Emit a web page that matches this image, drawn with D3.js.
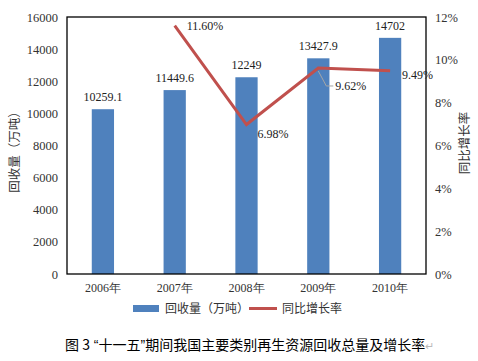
<!DOCTYPE html>
<html><head><meta charset="utf-8">
<script src="https://cdn.jsdelivr.net/npm/d3@7"></script>
<style>body{margin:0;background:#fff}</style>
</head><body>
<script>
const categories = ["2006年","2007年","2008年","2009年","2010年"];
const volumes = [10259.1, 11449.6, 12249, 13427.9, 14702];
const volumeLabels = ["10259.1","11449.6","12249","13427.9","14702"];
const growth = [null, 11.60, 6.98, 9.62, 9.49];
const growthLabels = ["", "11.60%", "6.98%", "9.62%", "9.49%"];
const leftTicks = [0,2000,4000,6000,8000,10000,12000,14000,16000];
const rightTicks = [0,2,4,6,8,10,12];

const W=478,H=361;
const m={l:67,r:426,t:17,b:274};
const svg=d3.select("body").append("svg").attr("width",W).attr("height",H);
const serif="'Liberation Serif','Times New Roman',serif";
const cjk="'Noto Sans CJK SC',sans-serif";

const x=d3.scaleBand().domain(categories).range([m.l,m.r]).paddingInner(0.69).paddingOuter(0.345);
const y=d3.scaleLinear().domain([0,16000]).range([m.b,m.t]);
const y2=d3.scaleLinear().domain([0,12]).range([m.b,m.t]);

// bars
svg.selectAll("rect.bar").data(volumes).join("rect")
 .attr("x",(d,i)=>x(categories[i])).attr("width",x.bandwidth())
 .attr("y",d=>y(d)).attr("height",d=>y(0)-y(d)).attr("fill","#4F81BD");

// plot border
svg.append("rect").attr("x",m.l).attr("y",m.t).attr("width",m.r-m.l).attr("height",m.b-m.t)
 .attr("fill","none").attr("stroke","#000").attr("stroke-width",1.3);

// left axis
const la=svg.append("g").attr("transform",`translate(${m.l},0)`)
 .call(d3.axisLeft(y).tickValues(leftTicks).tickSize(0).tickPadding(9).tickFormat(d3.format("d")));
la.select(".domain").remove();
la.selectAll("text").attr("font-family",serif).attr("font-size",12.5).attr("fill","#333");

// right axis
const ra=svg.append("g").attr("transform",`translate(${m.r},0)`)
 .call(d3.axisRight(y2).tickValues(rightTicks).tickSize(0).tickPadding(9).tickFormat(d=>d+"%"));
ra.select(".domain").remove();
ra.selectAll("text").attr("font-family",serif).attr("font-size",12.5).attr("fill","#333");

// x axis
const xa=svg.append("g").attr("transform",`translate(0,${m.b})`)
 .call(d3.axisBottom(x).tickSize(0).tickPadding(9));
xa.select(".domain").remove();
xa.selectAll("text").attr("font-family",serif).attr("font-size",12).attr("fill","#333");

// line
const pts=growth.map((g,i)=>({g,i})).filter(p=>p.g!==null);
const cx=i=>x(categories[i])+x.bandwidth()/2;
svg.append("path").datum(pts)
 .attr("d",d3.line().x(p=>cx(p.i)).y(p=>y2(p.g)))
 .attr("fill","none").attr("stroke","#C0504D").attr("stroke-width",3);

// bar labels
svg.selectAll("text.vl").data(volumes).join("text")
 .attr("x",(d,i)=>cx(i)).attr("y",d=>y(d)-8).attr("text-anchor","middle")
 .attr("font-family",serif).attr("font-size",12).attr("fill","#222")
 .text((d,i)=>volumeLabels[i]);

// growth labels
const offs=[null,[12,4],[11,13],[17,22],[12,8]];
pts.forEach(p=>{
  const o=offs[p.i];
  svg.append("text").attr("x",cx(p.i)+o[0]).attr("y",y2(p.g)+o[1])
   .attr("font-family",serif).attr("font-size",12).attr("fill","#222").text(growthLabels[p.i]);
});
// leader line for 2009
svg.append("path")
 .attr("d",`M${cx(3)},${y2(growth[3])+3} L${cx(3)+8},${y2(growth[3])+18} L${cx(3)+15},${y2(growth[3])+18}`)
 .attr("fill","none").attr("stroke","#A6A6A6").attr("stroke-width",1);

// axis titles
svg.append("text").attr("transform","translate(19,149) rotate(-90)").attr("text-anchor","middle")
 .attr("font-family",cjk).attr("font-size",12.5).attr("fill","#333").text("回收量（万吨）");
svg.append("text").attr("transform","translate(469,143) rotate(-90)").attr("text-anchor","middle")
 .attr("font-family",cjk).attr("font-size",12.5).attr("fill","#333").text("同比增长率");

// legend
svg.append("rect").attr("x",133).attr("y",305).attr("width",26).attr("height",7).attr("fill","#4F81BD");
svg.append("text").attr("x",165).attr("y",313).attr("font-family",cjk).attr("font-size",12).attr("fill","#333").text("回收量（万吨）");
svg.append("line").attr("x1",249).attr("x2",277).attr("y1",308.5).attr("y2",308.5).attr("stroke","#C0504D").attr("stroke-width",3);
svg.append("text").attr("x",282).attr("y",313).attr("font-family",cjk).attr("font-size",12).attr("fill","#333").text("同比增长率");

// caption
const cap=svg.append("text").attr("x",65).attr("y",350).attr("font-family",cjk).attr("font-size",14).attr("fill","#000");
cap.append("tspan").text("图 3");
cap.append("tspan").attr("font-family","'Liberation Sans',sans-serif").text(" “");
cap.append("tspan").text("十一五");
cap.append("tspan").attr("font-family","'Liberation Sans',sans-serif").text("”");
cap.append("tspan").text("期间我国主要类别再生资源回收总量及增长率");
cap.append("tspan").attr("fill","#bbb").attr("font-size",11).text("↵");
</script>
</body></html>
